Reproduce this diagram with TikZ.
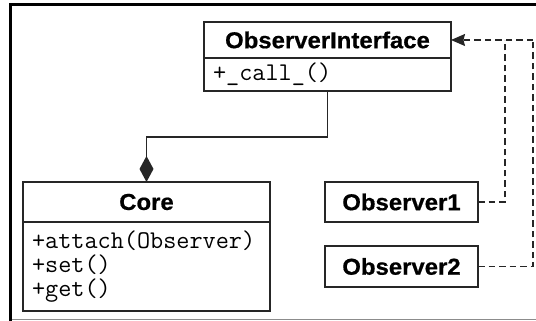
\documentclass[tikz,border=0pt]{standalone}
\usepackage{fontspec}
\setmainfont{Liberation Sans}
\newfontfamily\titlefont[FakeStretch=1.04,FakeBold=0.6]{Liberation Sans}
\usetikzlibrary{arrows.meta}
\begin{document}
\begin{tikzpicture}[x=1pt,y=1pt,
  box/.style={draw=black!85,line width=1.5pt,inner sep=0pt,outer sep=0pt},
  titlebox/.style={box,font=\titlefont\bfseries\fontsize{23}{24}\selectfont},
  methbox/.style={box,font=\ttfamily\fontsize{25.5}{24}\selectfont,align=left,text width=#1,inner xsep=9pt},
  dep/.style={draw=black!85,line width=1.3pt,dash pattern=on 6.5pt off 4pt},
  comp/.style={draw=black!85,line width=1.5pt}
]
\useasboundingbox (0,0) rectangle (536,321);
% frame
\draw[line width=3pt] (10,0) -- (10,316) -- (536,316);
\draw[black!45,line width=1.5pt] (12,1.5) -- (536,1.5);
% ObserverInterface
\node[titlebox,minimum width=247pt,minimum height=36pt] (oi) at (327.5,281) {ObserverInterface};
\node[methbox=229pt,minimum height=33pt,anchor=north] (oim) at (oi.south) {+\_call\_()};
% Core
\node[titlebox,minimum width=247pt,minimum height=40pt] (core) at (146.5,119) {Core};
\node[methbox=229pt,minimum height=89pt,anchor=north] (corem) at (core.south) {+attach(Observer)\\+set()\\+get()};
% Observers
\node[titlebox,minimum width=153pt,minimum height=40pt] (obs1) at (401.5,119) {Observer1};
\node[titlebox,minimum width=153pt,minimum height=41pt] (obs2) at (401.5,54.5) {Observer2};
% composition
\coordinate (bend) at (327,184);
\draw[comp,-{Diamond[length=26pt,width=14pt]}] (oim.south) -- (oim.south |- bend) -| (core.north);
% dependencies
\coordinate (j1) at (505,281);
\coordinate (j2) at (533,281);
\draw[dep] (obs1.east) -| (j1);
\draw[dep] (obs2.east) -| (j2);
\draw[dep,-{Stealth[length=14pt,width=12pt,inset=1.5pt]}] (j2) -- (oi.east);
\end{tikzpicture}
\end{document}
